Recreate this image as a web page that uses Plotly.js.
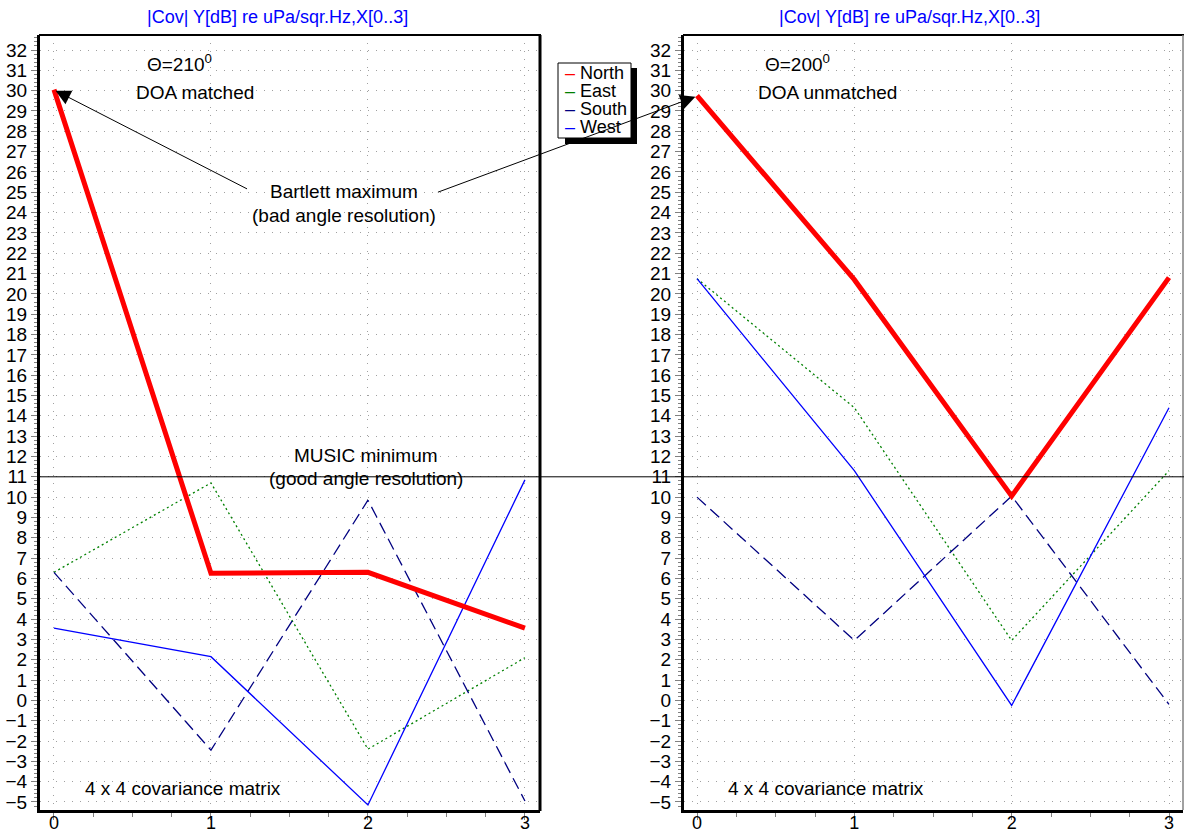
<!DOCTYPE html>
<html>
<head>
<meta charset="utf-8">
<script src="https://cdn.plot.ly/plotly-3.0.1.min.js"></script>
<style>html,body{margin:0;padding:0;background:#fff;}#chart{width:1184px;height:834px;}</style>
</head>
<body>
<div id="chart"></div>
<script>
// ---- data ----
const xIndex = [0, 1, 2, 3];
const seriesNames = ["North", "East", "South", "West"];
const seriesColors = ["#ff0000", "#008000", "#000080", "#0000ff"];

// left panel: Θ=210°, DOA matched
const leftNorth = [30.05, 6.25, 6.3, 3.55];
const leftEast  = [6.3, 10.7, -2.4, 2.1];
const leftSouth = [6.3, -2.45, 9.85, -4.95];
const leftWest  = [3.55, 2.15, -5.15, 10.85];

// right panel: Θ=200°, DOA unmatched
const rightNorth = [29.75, 20.7, 10.05, 20.8];
const rightEast  = [20.75, 14.4, 2.95, 11.3];
const rightSouth = [10.0, 2.95, 10.05, -0.2];
const rightWest  = [20.75, 11.3, -0.25, 14.4];

const panelTitle = "|Cov| Y[dB] re uPa/sqr.Hz,X[0..3]";
const yTickVals = [];
for (let v = -5; v <= 32; v++) yTickVals.push(v);
const xTickVals = [0, 1, 2, 3];
const musicLevel = 11;

// ---- styling ----
const W = 1184, H = 834;
const FONT = "Arial, 'Liberation Sans', sans-serif";
const px = v => v / W;
const py = v => 1 - v / H;
const lineStyles = [
  {width: 5, dash: "solid"},
  {width: 1.3, dash: "2px,3px"},
  {width: 1.3, dash: "12px,6px"},
  {width: 1.3, dash: "solid"}
];

function makeTraces(arrs, xa, ya) {
  return arrs.map((ys, i) => ({
    type: "scatter", mode: "lines",
    x: xIndex, y: ys, name: seriesNames[i],
    xaxis: xa, yaxis: ya, showlegend: false,
    line: {color: seriesColors[i], width: lineStyles[i].width, dash: lineStyles[i].dash},
    hoverinfo: "skip"
  }));
}

// draw North last so it sits on top
function order(arr){ return [arr[1], arr[2], arr[3], arr[0]]; }
const leftTr = makeTraces([leftNorth, leftEast, leftSouth, leftWest], "x", "y");
const rightTr = makeTraces([rightNorth, rightEast, rightSouth, rightWest], "x2", "y2");
const data = order(leftTr).concat(order(rightTr));

const yr = [-5.394, 32.738];
const ydom = [1 - 810 / H, 1 - 35 / H];

function xAxis(domain, range, anchor) {
  return {
    domain: domain, range: range, anchor: anchor,
    tickmode: "array", tickvals: xTickVals,
    ticks: "outside", ticklen: 7, tickwidth: 1, tickcolor: "#808080",
    ticklabelstandoff: -13,
    showline: true, linecolor: "#000", linewidth: 3, mirror: false,
    showgrid: true, gridcolor: "#a0a0a0", gridwidth: 1, griddash: "1px,7px",
    zeroline: false,
    tickfont: {family: FONT, size: 18, color: "#000"},
    minor: {dtick: 0.25, tick0: 0, ticks: "outside", ticklen: 4, tickcolor: "#808080", showgrid: false},
    fixedrange: true
  };
}
function yAxis(anchor) {
  return {
    domain: ydom, range: yr, anchor: anchor,
    tickmode: "array", tickvals: yTickVals,
    ticks: "outside", ticklen: 6, tickwidth: 1, tickcolor: "#808080",
    showline: true, linecolor: "#000", linewidth: 3, mirror: false,
    showgrid: true, gridcolor: "#a0a0a0", gridwidth: 1, griddash: "1px,7px",
    zeroline: false,
    tickfont: {family: FONT, size: 19, color: "#000"},
    minor: {dtick: 0.2, tick0: 0, ticks: "outside", ticklen: 3, tickcolor: "#808080", showgrid: false},
    fixedrange: true
  };
}

const annFont = {family: FONT, size: 19, color: "#000"};
function txt(text, x, y, xref, yref, extra) {
  return Object.assign({text: text, x: x, y: y, xref: xref, yref: yref,
    showarrow: false, font: annFont, xanchor: "center", yanchor: "middle"}, extra || {});
}

const annotations = [
  txt(panelTitle, px(277), py(17), "paper", "paper", {font: {family: FONT, size: 18, color: "#0000ff"}}),
  txt(panelTitle, px(909), py(17), "paper", "paper", {font: {family: FONT, size: 18, color: "#0000ff"}}),
  txt("Θ=210<sup>0</sup>", 0.80, 31.35, "x", "y"),
  txt("DOA matched", 0.90, 29.93, "x", "y"),
  txt("Bartlett maximum", 1.85, 25.06, "x", "y"),
  txt("(bad angle resolution)", 1.85, 23.88, "x", "y"),
  txt("MUSIC minimum", 1.99, 12.07, "x", "y"),
  txt("(good angle resolution)", 1.99, 10.94, "x", "y"),
  txt("4 x 4 covariance matrix", 0.82, -4.32, "x", "y"),
  txt("Θ=200<sup>0</sup>", 0.64, 31.35, "x2", "y2"),
  txt("DOA unmatched", 0.83, 29.93, "x2", "y2"),
  txt("4 x 4 covariance matrix", 0.82, -4.32, "x2", "y2"),
  // arrows from "Bartlett maximum"
  {text: "", x: 0.01, y: 30.0, xref: "x", yref: "y", showarrow: true,
   ax: 193, ay: 99, arrowhead: 2, arrowsize: 3, arrowwidth: 1, arrowcolor: "#000", standoff: 0},
  {text: "", x: -0.01, y: 29.7, xref: "x2", yref: "y2", showarrow: true,
   ax: -259, ay: 96, arrowhead: 2, arrowsize: 3, arrowwidth: 1, arrowcolor: "#000", standoff: 0}
];

// custom legend (series names & colours from the arrays)
const legendRows = [73, 91, 109, 127];
seriesNames.forEach((n, i) => {
  annotations.push({
    text: "<span style='color:" + seriesColors[i] + "'>–</span> " + n,
    x: px(563), y: py(legendRows[i]), xref: "paper", yref: "paper",
    xanchor: "left", yanchor: "middle", showarrow: false,
    font: {family: FONT, size: 18, color: "#000"}
  });
});

const shapes = [
  // frames
  {type: "line", xref: "paper", yref: "paper", x0: px(39), x1: px(541), y0: py(35), y1: py(35), line: {color: "#000", width: 2}},
  {type: "line", xref: "paper", yref: "paper", x0: px(540), x1: px(540), y0: py(35), y1: py(811), line: {color: "#000", width: 3}},
  {type: "line", xref: "paper", yref: "paper", x0: px(683), x1: px(1184), y0: py(35), y1: py(35), line: {color: "#000", width: 2}},
  {type: "line", xref: "paper", yref: "paper", x0: px(1183), x1: px(1183), y0: py(35), y1: py(810), line: {color: "#808080", width: 1.5}},
  // MUSIC level line across both panels
  {type: "line", xref: "paper", yref: "y", x0: px(40), x1: 1, y0: musicLevel, y1: musicLevel, line: {color: "#000", width: 1}, layer: "above"},
  // legend shadow + box
  {type: "rect", xref: "paper", yref: "paper", x0: px(565), x1: px(637), y0: py(144), y1: py(68), fillcolor: "#000", line: {width: 0}, layer: "above"},
  {type: "rect", xref: "paper", yref: "paper", x0: px(558), x1: px(631), y0: py(138), y1: py(63), fillcolor: "#fff", line: {color: "#000", width: 1}, layer: "above"}
];

const layout = {
  width: W, height: H, autosize: false,
  margin: {l: 0, r: 0, t: 0, b: 0},
  paper_bgcolor: "#fff", plot_bgcolor: "#fff",
  showlegend: false,
  font: {family: FONT, color: "#000"},
  xaxis: xAxis([px(40), px(540)], [-0.089, 3.096], "y"),
  yaxis: yAxis("x"),
  xaxis2: xAxis([px(684), px(1183)], [-0.0826, 3.089], "y2"),
  yaxis2: yAxis("x2"),
  annotations: annotations,
  shapes: shapes
};

Plotly.newPlot("chart", data, layout, {displayModeBar: false, staticPlot: true});
</script>
</body>
</html>
